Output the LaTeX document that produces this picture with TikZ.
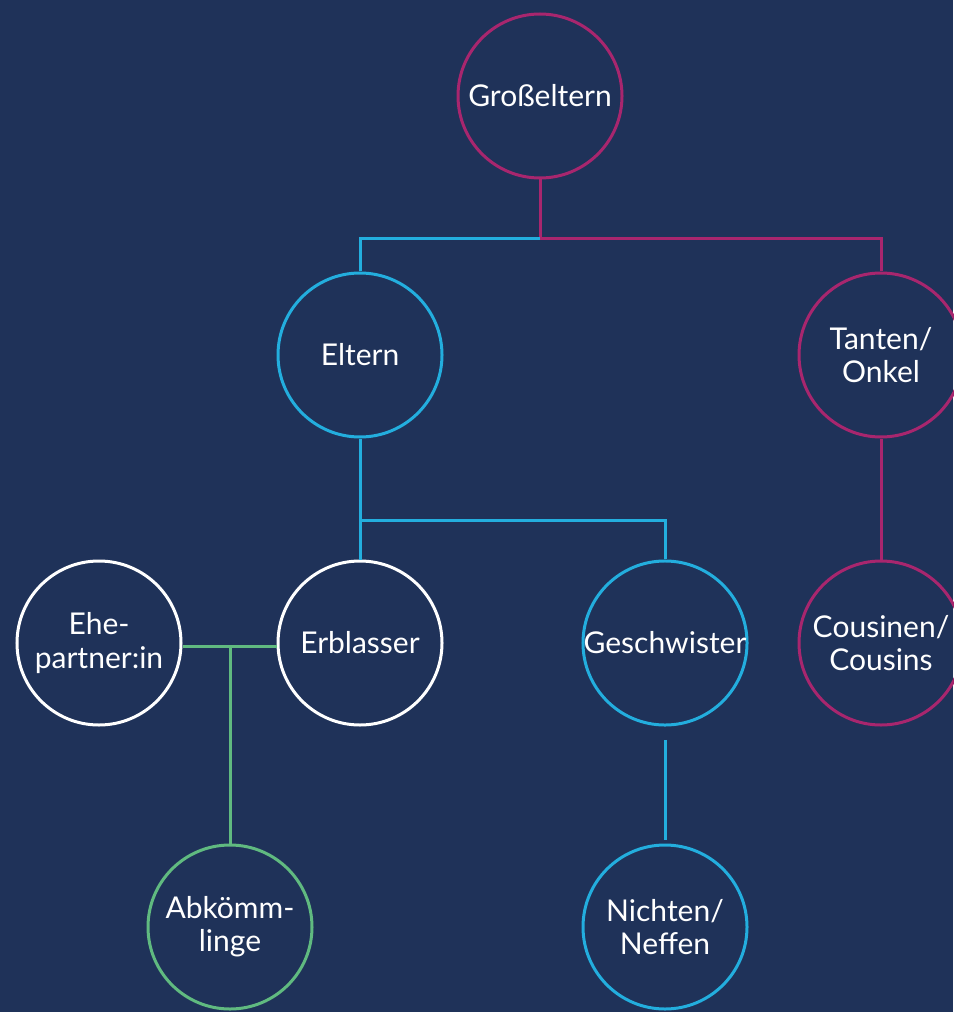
\documentclass[tikz,border=0pt]{standalone}
\usepackage{fontspec}
\setmainfont{Lato}
\definecolor{navybg}{RGB}{31,50,89}
\definecolor{plum}{RGB}{168,38,110}
\definecolor{skyblue}{RGB}{35,174,222}
\definecolor{leaf}{RGB}{96,186,128}
\tikzset{
  member/.style={circle, draw, line width=2.25pt, minimum size=123pt, inner sep=0pt,
    text=white, align=center, font=\fontsize{22.5}{25}\selectfont},
  link/.style={line width=2.25pt}
}
\begin{document}
\begin{tikzpicture}[x=0.75pt,y=0.75pt,yscale=-1,xscale=1]
%Background
\fill[navybg] (0,0) rectangle (953,1012);
\useasboundingbox (0,0) rectangle (953,1012);

%Shape: Circle
\node[member, draw=plum] (grosseltern) at (540,96) {Großeltern};
%Shape: Circle
\node[member, draw=skyblue] (eltern) at (360,355) {Eltern};
%Shape: Circle
\node[member, draw=plum] (tanten) at (881,355) {Tanten/\\Onkel};
%Shape: Circle
\node[member, draw=white] (ehepartner) at (99,643) {Ehe-\\partner:in};
%Shape: Circle
\node[member, draw=white] (erblasser) at (360,643) {Erblasser};
%Shape: Circle
\node[member, draw=skyblue] (geschwister) at (665,643) {Geschwister};
%Shape: Circle
\node[member, draw=plum] (cousinen) at (881,643) {Cousinen/\\Cousins};
%Shape: Circle
\node[member, draw=leaf] (abkoemmlinge) at (230,927) {Abkömm-\\linge};
%Shape: Circle
\node[member, draw=skyblue] (nichten) at (665,927) {Nichten/\\Neffen};

%Forks
\coordinate (topfork) at (540,239);
\coordinate (midfork) at (360,520);
\coordinate (lowfork) at (230,646);

%Straight Lines
\draw[link, plum] (grosseltern) -- (topfork) -| (tanten);
\draw[link, skyblue] (topfork) -| (eltern);
\draw[link, plum] (tanten) -- (cousinen);
\draw[link, skyblue] (eltern) -- (erblasser);
\draw[link, skyblue] (midfork) -| (geschwister);
\draw[link, skyblue, shorten <=10pt, shorten >=3pt] (geschwister) -- (nichten);
\draw[link, leaf] (ehepartner.east |- lowfork) -- (erblasser.west |- lowfork);
\draw[link, leaf] (lowfork) -- (abkoemmlinge);

\end{tikzpicture}
\end{document}
